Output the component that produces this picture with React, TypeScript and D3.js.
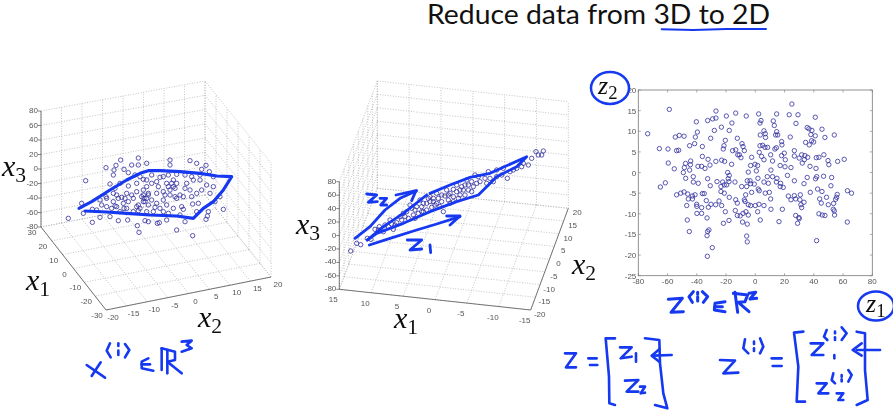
import React from "react";
import * as d3 from "d3";

type P = [number, number];

const title = "Reduce data from 3D to 2D";
const x1TicksA = [-30, -20, -10, 0, 10, 20, 30];
const x2TicksA = [-20, -15, -10, -5, 0, 5, 10, 15, 20];
const x1TicksB = [-15, -10, -5, 0, 5, 10, 15];
const x2TicksB = [-20, -15, -10, -5, 0, 5, 10, 15, 20];
const x3Ticks = [-80, -60, -40, -20, 0, 20, 40, 60, 80];
const z1Ticks = [-80, -60, -40, -20, 0, 20, 40, 60, 80];
const z2Ticks = [-25, -20, -15, -10, -5, 0, 5, 10, 15, 20];

const cloudA: P[] = [[205,415],[257,302],[277,427],[318,263],[362,240],[348,256],[342,270],[340,285],[372,268],[385,278],[395,255],[415,234],[415,255],[440,250],[510,240],[510,255],[570,242],[590,250],[618,256],[605,268],[628,275],[640,290],[600,300],[575,290],[555,285],[530,283],[505,285],[480,292],[455,285],[430,298],[410,310],[385,318],[360,310],[345,325],[330,312],[318,350],[305,375],[290,390],[320,380],[340,365],[350,345],[365,352],[380,340],[395,345],[410,335],[430,330],[440,320],[445,345],[425,350],[430,365],[415,375],[400,355],[385,365],[370,370],[350,380],[335,385],[380,385],[400,395],[420,385],[445,375],[455,360],[470,340],[475,320],[490,335],[505,320],[515,310],[525,325],[540,345],[550,350],[525,350],[510,345],[490,360],[500,375],[480,385],[460,395],[490,395],[520,385],[545,380],[550,388],[575,350],[590,340],[605,330],[620,315],[640,320],[630,340],[660,350],[645,365],[670,388],[625,395],[622,408],[618,418],[595,370],[578,372],[590,395],[530,450],[578,467],[555,425],[500,420],[478,428],[472,430],[445,425],[435,422],[412,437],[417,457],[383,420],[355,422],[330,410],[300,412],[277,388],[245,370],[250,400],[520,300],[530,310],[560,310],[570,330],[580,300],[600,285],[470,370],[440,395],[430,345],[440,355],[445,340],[495,345],[455,310],[470,305],[360,395],[345,378],[320,355],[372,385],[410,380],[415,392],[465,382],[505,400],[540,405],[530,355],[555,325],[490,290],[440,300],[405,285],[420,290],[340,340],[300,360],[355,355],[375,355],[432,355],[435,365],[500,310],[510,330],[520,320]];

const cloudB: P[] = [[182,543],[200,520],[212,524],[232,505],[243,508],[255,478],[268,470],[280,485],[295,470],[310,478],[305,462],[320,458],[335,450],[345,440],[355,445],[350,425],[370,435],[375,420],[385,430],[395,410],[400,425],[410,400],[420,395],[425,412],[435,405],[445,385],[440,400],[455,395],[460,425],[465,378],[475,390],[480,370],[490,380],[500,365],[505,385],[510,375],[520,360],[525,375],[535,345],[545,365],[550,350],[560,340],[570,335],[555,315],[585,325],[595,305],[610,335],[620,320],[635,315],[652,325],[670,300],[680,295],[695,290],[700,280],[715,285],[725,265],[738,245],[745,255],[760,243],[755,255],[380,410],[390,390],[415,385],[430,385],[470,360],[490,358],[515,350],[530,330],[500,345],[480,400],[360,405],[340,430],[300,450],[285,465],[265,480],[440,370],[450,410],[375,445],[410,420],[525,345],[510,360],[545,335],[490,395],[400,400],[420,380],[455,375],[475,375],[535,360],[565,320],[600,325],[640,295],[660,305],[590,340],[620,300],[430,395],[395,425],[365,415],[330,440],[315,465]];

// (z1, z2) values
const zPoints: P[] = [[-73.6,9.4],[-58.8,15.3],[-65.6,5.8],[-59.7,5.7],[-59.5,2.3],[-55.4,.9],[-61.5,-2.5],[-64.9,-3.5],[-53.8,5.3],[-52.4,5.4],[-54.7,8.6],[-52,9],[-48.7,8.8],[-40.3,12.3],[-39.6,9.8],[-41,8.6],[-41.5,7],[-44.9,6.5],[-36.2,6.3],[-32.6,12.6],[-29.2,13],[-26.9,13.2],[-26.9,14.9],[-19.8,13.7],[-13.4,14.4],[-6.2,13.7],[2.3,14.2],[25,16.6],[14.6,14.2],[23.2,14],[29.2,14],[41,13.4],[12.3,12.5],[13,11.4],[3.9,12.6],[3.2,12],[-16,12],[-23.2,11],[-28,10.2],[-17.8,10.2],[-30.5,8.3],[-20.5,7.8],[-12.3,8.3],[27.8,11.9],[35.5,10.9],[36.7,10.6],[38.7,10.2],[45.6,10.5],[38,9.2],[41,8.9],[47.6,8.5],[54,9.1],[23.9,8.6],[18,7.5],[18.2,6.7],[5.9,10.1],[6.8,9.4],[3.4,9.1],[7,8.5],[14.6,9.9],[13.9,9.1],[15.3,9.1],[34.4,7.3],[36.9,6.7],[39.9,7.4],[38.5,7.7],[-21.9,5.7],[-21.4,6.5],[-15.5,5.3],[-13.4,5.5],[-9.1,7],[-8.4,6.3],[-7.5,5.3],[-12,4.3],[-10.9,4.3],[-9.8,3.6],[3.2,6.5],[5,6.6],[6.6,6.1],[8.4,6.1],[2.7,4.9],[4.3,3.9],[5.9,3.1],[10.5,4.3],[13.4,5.7],[14.4,6],[11.8,2.8],[19.8,4.7],[18,4.1],[20.5,3.1],[26.7,5.3],[26.7,4],[30,3.5],[31.7,4.3],[33.9,4.1],[35.8,3.7],[32.1,2.3],[33.5,3.1],[41.7,3.6],[43.5,3.7],[46.9,4.3],[49.7,2.9],[50.3,1.9],[56.3,2.7],[60.8,3.2],[-36.2,3.9],[-32.3,3.2],[-27,2.7],[-23,3],[-21,2.7],[-16.2,2],[-44.2,2.8],[-47.7,2.2],[-48.5,1.2],[-44.4,1.9],[-39.2,1.5],[-36.7,1.5],[-34.4,1],[-31,1.8],[-44.9,.6],[-49.2,0],[-47.6,-1.4],[-42.4,-1],[-42.4,-2.3],[-39,-2.6],[-32.6,-1.5],[-30.8,-3.2],[-26.2,-2.2],[-18.9,0],[-17.8,-.7],[-18.5,-1.5],[-18,-2.2],[-13.9,-2.3],[-22.3,-2.3],[-23.5,-3.4],[-21.2,-3],[-19.6,-3],[-2.5,3.7],[-3.2,1.7],[-.2,2],[1.6,1.7],[-4.8,.1],[.7,.4],[1.8,-1.4],[-3.6,-2],[-5.5,-2],[-9.3,-3.4],[-5.9,-3.4],[-3.2,-2.7],[-.7,-2.8],[2,-4],[-2.5,-4.8],[-6.6,-5.4],[2.7,-4.4],[10.7,.6],[8.2,-1],[5.9,-2.3],[8.9,-2.6],[11.8,-1],[14.8,-1.4],[14.4,-2.3],[17.3,-2.6],[19.1,-3.6],[17,-3.4],[17,1.7],[20.3,1.4],[24.4,1.2],[22,-.7],[26.7,-2],[33.3,-2.7],[35.5,-1.2],[41.2,-1.5],[42,-1],[37.4,1.5],[41.5,1],[46.7,-.9],[52.2,-1.2],[51.7,-3.2],[37.6,-4.8],[42.6,-4],[45.6,-4.6],[48.7,-6],[44,-6.4],[45.1,-7.4],[49.9,-7.8],[53.5,-7.5],[56,-5.3],[55.6,-6],[54.9,-6.5],[53.3,-8.9],[54,-9.3],[54.2,-10.3],[43.5,-10],[45.8,-10.3],[47.6,-10.4],[63,-4.4],[65.8,-5],[62.9,-12],[41.9,-16.5],[22.6,-5.7],[26.7,-5.6],[24.4,-6.6],[27.6,-6.4],[30.8,-5.4],[30.5,-6.6],[31.2,-7.8],[33.3,-7.2],[31.7,-8.5],[9.6,-4.8],[6.8,-5],[10.5,-6.4],[5.9,-8],[10.7,-8.9],[18.5,-8.9],[16.2,-11.9],[27.6,-10.4],[29.8,-10.9],[30,-11.2],[28.9,-12.3],[-53.8,-5.4],[-51,-5],[-48.7,-4.7],[-46.2,-5.2],[-43,-5.7],[-41.2,-5.4],[-45.8,-6.4],[-43,-6.4],[-36.2,-5.1],[-34.9,-5.1],[-46.9,-8],[-40.1,-7.7],[-40,-8.2],[-36.7,-8.5],[-39.9,-9.9],[-36.7,-9.9],[-33.5,-6.8],[-30.3,-7.7],[-32.1,-8.4],[-33,-11],[-46.5,-11.5],[-45.1,-14.3],[-31.7,-13.9],[-32.6,-14.3],[-33,-15.3],[-29.4,-18.2],[-32.8,-20.3],[-27.1,-7.8],[-24.8,-6.9],[-23,-8],[-23.5,-4.6],[-21.2,-5],[-17.8,-6],[-20.5,-9.5],[-21.8,-12.3],[-18,-11.6],[-13.4,-6.6],[-12.3,-7.4],[-13.7,-9.2],[-12.3,-10.4],[-10.3,-10.5],[-8.4,-9.9],[-6.4,-9.5],[-4.8,-10.3],[-8.7,-12],[-5.5,-12.5],[-5.9,-15.4],[-5.5,-16.8],[-7,-7],[-4.8,-7.8],[-3.2,-8],[0,-8],[1.6,-9.5],[2.5,-7.7],[3.4,-11.5],[-7.5,-6.6]];

// Handwritten ink strokes, in zoom-reading units of each crop
const inkA: P[][] = [[[237,385],[275,365],[330,330],[380,300],[420,280],[445,272],[480,272],[540,275],[600,280],[650,288],[695,290],[670,330],[640,365],[610,385],[580,415],[530,408],[450,405],[380,400],[320,396],[255,393]]];
const inkB: P[][] = [
  [[238,525],[300,505],[380,480],[440,462],[510,440]], [[470,438],[510,438],[480,465]],
  [[195,505],[240,470],[285,420],[330,385],[380,362]], [[318,375],[378,362],[365,392]],
  [[232,510],[280,470],[340,430],[410,375]],
  [[420,370],[480,345],[540,322],[600,310],[710,260],[680,290],[620,320],[590,350],[565,375],[500,395],[420,425],[340,460],[260,490],[232,510]],
  [[230,372],[260,375],[235,397],[262,395]], [[270,385],[290,385],[272,405],[290,405]],
  [[352,510],[395,510],[360,540],[395,537]], [[420,525],[422,548]],
];
const inkC: P[][] = [
  [[250,703],[292,700],[258,742],[295,740]],
  [[325,680],[312,695],[322,712]], [[338,682],[338,688]], [[338,695],[338,708]], [[352,680],[368,695],[355,712]],
  [[420,710],[390,715],[388,735],[420,740]], [[390,725],[412,725]],
  [[450,682],[458,742]], [[445,685],[488,690],[480,710],[460,712],[492,740]],
  [[492,685],[512,682],[495,702],[515,700]],
];
const inkD: P[][] = [
  [[-15,190],[18,190],[-12,232],[18,232]], [[55,205],[80,205]], [[60,225],[82,225]],
  [[135,145],[107,145],[117,260],[118,340],[135,345]],
  [[150,172],[185,172],[152,205],[185,200]], [[198,190],[198,215]],
  [[165,272],[205,270],[170,305],[205,305]], [[210,290],[225,290],[212,310],[225,308]],
  [[225,145],[268,150],[270,220],[280,310],[292,355],[255,345]],
  [[305,195],[250,197]], [[268,178],[245,197],[268,215]],
  [[450,210],[495,212],[460,250],[505,248]],
  [[525,148],[520,175],[535,190]], [[552,155],[552,162]], [[552,175],[552,183]], [[570,145],[580,170],[570,190]],
  [[605,205],[635,205]], [[608,228],[635,228]],
  [[700,125],[672,128],[685,230],[680,335],[705,335]],
  [[722,160],[760,160],[725,195],[760,195]],
  [[770,120],[762,140],[772,150]], [[795,125],[795,130]], [[795,142],[795,150]], [[815,112],[830,130],[815,150]], [[793,195],[793,205]],
  [[740,280],[770,280],[745,310],[775,310]],
  [[790,250],[785,270],[795,280]], [[815,255],[815,260]], [[815,268],[815,274]], [[835,240],[845,255],[835,275]],
  [[800,310],[820,310],[805,330],[820,330]],
  [[860,125],[885,130],[885,240],[893,330],[860,345]],
  [[930,180],[860,180]], [[875,160],[848,180],[875,197]],
];
const inkE: P[][] = [
  [[20,105],[75,143]], [[62,97],[35,138]],
  [[90,40],[80,62],[92,82]], [[115,40],[115,48]], [[115,62],[115,75]], [[135,42],[148,60],[135,82]],
  [[205,85],[185,95],[185,115],[220,122]], [[185,103],[210,103]],
  [[245,55],[245,120]], [[262,60],[262,130]], [[245,55],[285,65],[285,90],[262,95],[305,130]],
  [[305,35],[335,32],[320,45],[335,55],[305,65]],
];
const inkF: P[][] = [[[755,88],[850,90],[950,87],[1068,87]]];

const INK = "#1438f0";
const MARK = "#32309f";
const TICK = "#555";
const serif = "'Liberation Serif','DejaVu Serif',serif";

type Box = { L: P; F: P; R: P; B: P; Lt: P; Bt: P; Rt: P };
const lerp = (a: P, b: P, t: number): P => [a[0] + (b[0] - a[0]) * t, a[1] + (b[1] - a[1]) * t];

function Ink({ strokes, ox, oy, w = 3 }: { strokes: P[][]; ox: number; oy: number; w?: number }) {
  const sx = d3.scaleLinear().domain([0, 3]).range([ox, ox + 1]);
  const sy = d3.scaleLinear().domain([0, 3]).range([oy, oy + 1]);
  const line = d3.line<P>().x(d => sx(d[0])).y(d => sy(d[1]));
  return <g fill="none" stroke={INK} strokeWidth={w} strokeLinecap="round" strokeLinejoin="round">
    {strokes.map((s, i) => <path key={i} d={line(s) || ""} />)}
  </g>;
}

function Cube({ box, x1t, x2t, x1off, x2off }: { box: Box; x1t: number[]; x2t: number[]; x1off: P; x2off: P }) {
  const { L, F, R, B, Lt, Bt, Rt } = box;
  const s = d3.scaleLinear().domain(d3.extent(x1t) as [number, number]).range([0, 1]);
  const t = d3.scaleLinear().domain(d3.extent(x2t) as [number, number]).range([0, 1]);
  const h = d3.scaleLinear().domain([-80, 80]).range([0, 1]);
  const grid = { stroke: "#aaaaaa", strokeWidth: 0.7, strokeDasharray: "1 1.6", fill: "none" };
  const lines: [P, P][] = [];
  x3Ticks.forEach(v => {
    const k = h(v);
    lines.push([lerp(L, Lt, k), lerp(B, Bt, k)]);
    lines.push([lerp(B, Bt, k), lerp(R, Rt, k)]);
  });
  x2t.forEach(v => {
    const k = t(v);
    const a = lerp(L, B, k), b = lerp(Lt, Bt, k), c = lerp(F, R, k);
    lines.push([a, b]); lines.push([a, c]);
  });
  x1t.forEach(v => {
    const k = s(v);
    const a = lerp(R, B, k), b = lerp(Rt, Bt, k), c = lerp(F, L, k);
    lines.push([a, b]); lines.push([a, c]);
  });
  const label = { fontFamily: "'Liberation Sans',sans-serif", fontSize: 8, fill: "#555" };
  return <g>
    {lines.map((l, i) => <line key={i} x1={l[0][0]} y1={l[0][1]} x2={l[1][0]} y2={l[1][1]} {...grid} />)}
    <path d={`M${L}L${Lt}M${L}L${F}L${R}`} stroke={TICK} strokeWidth={0.8} fill="none" />
    {x3Ticks.map(v => {
      const p = lerp(L, Lt, h(v));
      return <g key={v}>
        <line x1={p[0] - 3} x2={p[0]} y1={p[1]} y2={p[1]} stroke={TICK} strokeWidth={0.7} />
        <text x={p[0] - 3} y={p[1] + 2} textAnchor="end" {...label}>{v}</text>
      </g>;
    })}
    {x1t.map(v => {
      const p = lerp(F, L, s(v));
      return <text key={v} x={p[0] + x1off[0]} y={p[1] + x1off[1]} textAnchor="middle" {...label}>{v}</text>;
    })}
    {x2t.map(v => {
      const p = lerp(F, R, t(v));
      return <text key={v} x={p[0] + x2off[0]} y={p[1] + x2off[1]} textAnchor="middle" {...label}>{v}</text>;
    })}
  </g>;
}

function Cloud({ pts, ox, oy }: { pts: P[]; ox: number; oy: number }) {
  const sx = d3.scaleLinear().domain([0, 3]).range([ox, ox + 1]);
  const sy = d3.scaleLinear().domain([0, 3]).range([oy, oy + 1]);
  return <g fill="none" stroke={MARK} strokeWidth={0.8}>
    {pts.map((p, i) => <circle key={i} cx={sx(p[0])} cy={sy(p[1])} r={2.2} />)}
  </g>;
}

function Sub({ x, y, a, b, size = 30 }: { x: number; y: number; a: string; b: string; size?: number }) {
  return <text x={x} y={y} fontFamily={serif} fontStyle="italic" fontSize={size} fill="#111">
    {a}<tspan dy={size * 0.2} fontStyle="normal" fontSize={size * 0.72}>{b}</tspan>
  </text>;
}

const boxA: Box = { L: [41, 227], F: [106, 310], R: [271, 277], B: [205, 195], Lt: [41, 111], Bt: [205, 81], Rt: [271, 163] };
const boxB: Box = { L: [339.3, 289.3], F: [530.7, 310], R: [568.3, 208.3], B: [377.3, 188.3], Lt: [339.3, 181.7], Bt: [377.3, 81], Rt: [568.3, 101.7] };

export default function App() {
  const zx = d3.scaleLinear().domain([-80, 80]).range([638.3, 872.3]);
  const zy = d3.scaleLinear().domain([-25, 20]).range([275.7, 90]);
  const label = { fontFamily: "'Liberation Sans',sans-serif", fontSize: 8, fill: "#555" };
  return (
    <svg width={893} height={411} viewBox="0 0 893 411" style={{ position: "fixed", left: 0, top: 0, background: "#fff" }}>
      <defs><filter id="soft" x="-2%" y="-2%" width="104%" height="104%"><feGaussianBlur stdDeviation="0.3" /></filter></defs>
      <text x={427} y={24} fontFamily="Lato,'Open Sans',sans-serif" fontSize={26} fill="#111" textLength={343} lengthAdjust="spacingAndGlyphs">{title}</text>
      <Ink strokes={inkF} ox={410} oy={0} w={2} />
      <g filter="url(#soft)">
        <Cube box={boxA} x1t={x1TicksA} x2t={x2TicksA} x1off={[-9, 8]} x2off={[7, 10]} />
        <Cloud pts={cloudA} ox={0} oy={80} />
        <Ink strokes={inkA} ox={0} oy={80} w={3.2} />
        <Cube box={boxB} x1t={x1TicksB} x2t={x2TicksB} x1off={[-6, 13]} x2off={[9, 7]} />
        <Cloud pts={cloudB} ox={290} oy={70} />
        <Ink strokes={inkB} ox={290} oy={70} w={2.8} />
        <rect x={zx(-80)} y={zy(20)} width={zx(80) - zx(-80)} height={zy(-25) - zy(20)} fill="none" stroke="#777" strokeWidth={0.8} />
        {z1Ticks.map(v => <g key={v}>
          <line x1={zx(v)} x2={zx(v)} y1={zy(-25)} y2={zy(-25) - 2.5} stroke="#777" strokeWidth={0.6} />
          <line x1={zx(v)} x2={zx(v)} y1={zy(20)} y2={zy(20) + 2.5} stroke="#777" strokeWidth={0.6} />
          <text x={zx(v)} y={zy(-25) + 8} textAnchor="middle" {...label}>{v}</text>
        </g>)}
        {z2Ticks.map(v => <g key={v}>
          <line x1={zx(-80)} x2={zx(-80) + 2.5} y1={zy(v)} y2={zy(v)} stroke="#777" strokeWidth={0.6} />
          <line x1={zx(80)} x2={zx(80) - 2.5} y1={zy(v)} y2={zy(v)} stroke="#777" strokeWidth={0.6} />
          <text x={zx(-80) - 2} y={zy(v) + 3} textAnchor="end" {...label}>{v}</text>
        </g>)}
        <g fill="none" stroke={MARK} strokeWidth={0.8}>
          {zPoints.map((p, i) => <circle key={i} cx={zx(p[0])} cy={zy(p[1])} r={2.2} />)}
        </g>
        <Sub x={2} y={176} a="x" b="3" />
        <Sub x={26} y={290} a="x" b="1" />
        <Sub x={198} y={327} a="x" b="2" />
        <Sub x={296} y={234} a="x" b="3" />
        <Sub x={394} y={328} a="x" b="1" />
        <Sub x={572} y={274} a="x" b="2" />
        <Sub x={598} y={94} a="z" b="2" size={26} />
        <Sub x={866} y={312} a="z" b="1" size={26} />
        <ellipse cx={610} cy={88} rx={19} ry={16} fill="none" stroke={INK} strokeWidth={2.5} />
        <ellipse cx={876} cy={306} rx={18} ry={14.5} fill="none" stroke={INK} strokeWidth={2.5} />
        <Ink strokes={inkC} ox={585} oy={65} w={3} />
        <Ink strokes={inkD} ox={570} oy={290} w={2.6} />
        <Ink strokes={inkE} ox={80} oy={330} w={2.6} />
      </g>
    </svg>
  );
}
